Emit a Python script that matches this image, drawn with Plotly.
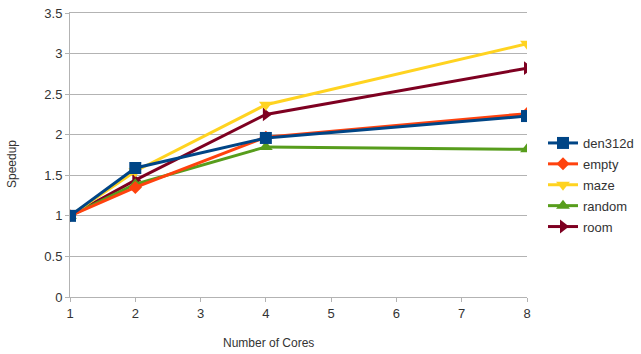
import plotly.graph_objects as go

cores = [1, 2, 4, 8]
den312d = [1.0, 1.59, 1.96, 2.23]
empty = [1.0, 1.35, 1.97, 2.26]
maze = [1.0, 1.55, 2.37, 3.12]
random_ = [1.0, 1.39, 1.85, 1.82]
room = [1.0, 1.44, 2.25, 2.82]

series = [
    ("den312d", den312d, "#004586", "square", 12),
    ("empty", empty, "#ff420e", "diamond", 10),
    ("maze", maze, "#ffd320", "triangle-down", 12),
    ("random", random_, "#579d1c", "triangle-up", 12),
    ("room", room, "#7e0021", "triangle-right", 12),
]

fig = go.Figure()
# draw in reverse so den312d sits on top; legend order kept via legendrank
for rank, (name, vals, color, sym, sz) in reversed(list(enumerate(series))):
    fig.add_trace(go.Scatter(
        x=cores, y=vals, name=name, mode="lines+markers", legendgroup=name,
        legendrank=rank + 1,
        line=dict(color=color, width=3),
        marker=dict(symbol=sym, size=sz, color=color),
    ))

W, H = 641, 354
L, R, T, B = 70, 114, 13, 57
PW, PH = W - L - R, H - T - B

fig.update_layout(
    width=W, height=H,
    margin=dict(l=L, r=R, t=T, b=B, autoexpand=False),
    paper_bgcolor="white", plot_bgcolor="white",
    font=dict(family="Liberation Sans, Arial, sans-serif", size=12, color="#333333"),
    showlegend=True,
    legend=dict(x=(543 - L) / PW, xanchor="left",
                y=(H - B - 185) / PH, yanchor="middle",
                font=dict(size=13, color="#333333"), traceorder="grouped",
                bgcolor="rgba(0,0,0,0)", itemwidth=30, tracegroupgap=1),
    xaxis=dict(range=[1, 8], tickvals=[1, 2, 3, 4, 5, 6, 7, 8],
               showgrid=False, zeroline=False,
               showline=True, linecolor="#b3b3b3", linewidth=1, mirror=True,
               ticks="outside", ticklen=4, tickcolor="#b3b3b3",
               tickfont=dict(size=13, color="#333333")),
    yaxis=dict(range=[0, 3.5], tickvals=[0, 0.5, 1, 1.5, 2, 2.5, 3, 3.5],
               ticktext=["0", "0.5", "1", "1.5", "2", "2.5", "3", "3.5"],
               showgrid=True, gridcolor="#b3b3b3", gridwidth=1, zeroline=False,
               showline=True, linecolor="#b3b3b3", linewidth=1,
               ticks="outside", ticklen=4, tickcolor="#b3b3b3",
               tickfont=dict(size=13, color="#333333")),
    annotations=[
        dict(text="Number of Cores", xref="paper", yref="paper",
             x=(268 - L) / PW, y=-(343 - (H - B)) / PH,
             xanchor="center", yanchor="middle", showarrow=False,
             font=dict(size=12, color="#333333")),
        dict(text="Speedup", xref="paper", yref="paper",
             x=-(L - 12) / PW, y=(H - B - 164) / PH,
             xanchor="center", yanchor="middle", showarrow=False, textangle=-90,
             font=dict(size=12, color="#333333")),
    ],
)

fig.write_html("out.html", config={"displayModeBar": False},
               post_script="document.body.style.margin='0';document.body.style.overflow='hidden';")
